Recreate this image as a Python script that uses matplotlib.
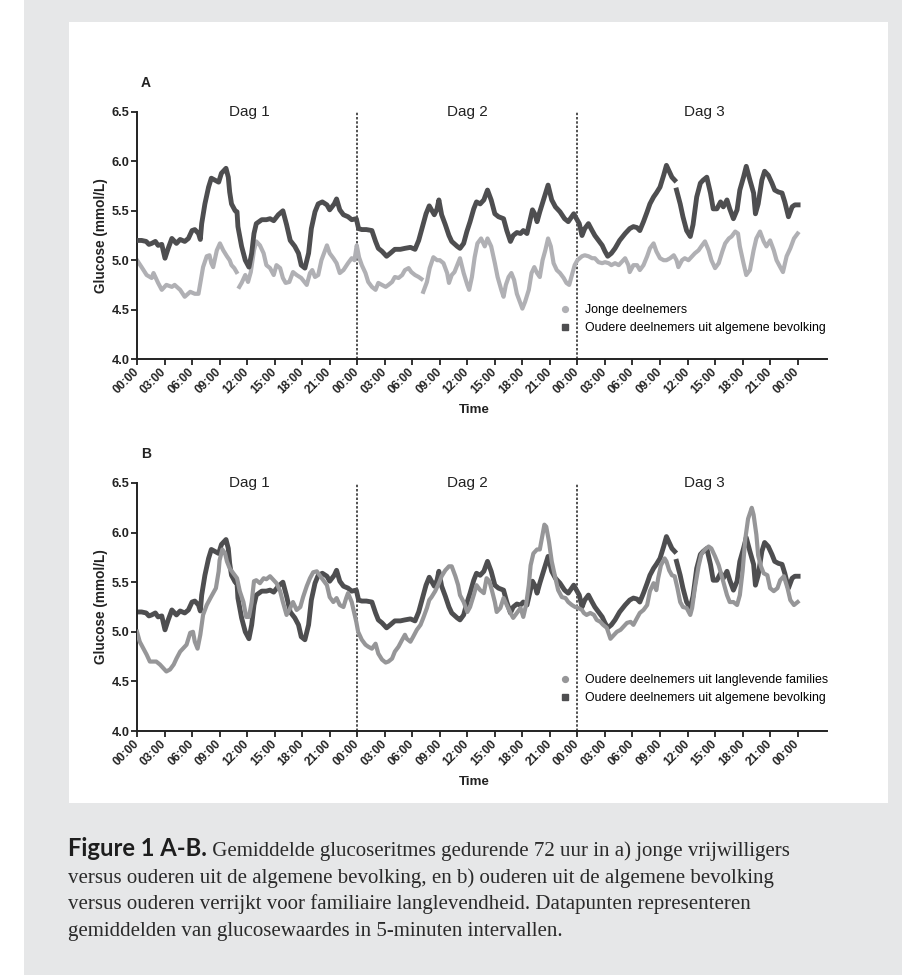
import numpy as np
import matplotlib
matplotlib.use("Agg")
import matplotlib.pyplot as plt
from matplotlib.lines import Line2D
from matplotlib.patches import Rectangle

nan = float("nan")

# ---------------- data (hour since start, glucose mmol/L) ----------------
young_readings = [
    (0, 5.00), (0.5, 4.93), (1.05, 4.85), (1.6, 4.82), (1.8, 4.87), (2.3, 4.77), (2.7, 4.70),
    (3.2, 4.75), (3.8, 4.73), (4.1, 4.75), (4.7, 4.70), (5.2, 4.63), (5.8, 4.68), (6.3, 4.66),
    (6.7, 4.66), (6.9, 4.77), (7.2, 4.93), (7.6, 5.04), (7.9, 5.05), (8.1, 4.97), (8.3, 4.93),
    (8.7, 5.10), (9.04, 5.17), (9.4, 5.10), (9.8, 5.04), (10.1, 5.00), (10.3, 4.95), (10.6, 4.92),
    (10.85, 4.88), (10.95, nan), (11.15, 4.73), (11.4, 4.77), (11.8, 4.85), (12.1, 4.78),
    (12.4, 4.88), (12.75, 5.10), (13.0, 5.19), (13.4, 5.15), (13.8, 5.07), (14.1, 4.95),
    (14.5, 4.92), (14.9, 4.85), (15.2, 4.95), (15.6, 4.92), (15.9, 4.82), (16.2, 4.77),
    (16.6, 4.78), (17.0, 4.88), (17.4, 4.85), (17.9, 4.82), (18.5, 4.75), (18.85, 4.87),
    (19.1, 4.90), (19.4, 4.83), (19.75, 4.85), (20.1, 5.00), (20.5, 5.10), (20.7, 5.15),
    (21.0, 5.07), (21.4, 5.02), (21.75, 4.97), (22.1, 4.87), (22.5, 4.90), (23.0, 4.97),
    (23.4, 5.02), (23.7, 5.00), (23.95, 5.15),
    (24.2, 5.03), (24.5, 4.95), (24.9, 4.87), (25.2, 4.78), (25.6, 4.73), (26.0, 4.70),
    (26.3, 4.77), (26.7, 4.75), (27.1, 4.73), (27.4, 4.75), (27.8, 4.78), (28.1, 4.83),
    (28.5, 4.82), (28.9, 4.85), (29.2, 4.90), (29.6, 4.92), (29.9, 4.88), (30.3, 4.85),
    (30.7, 4.83), (31.0, 4.81), (31.1, nan), (31.2, 4.68), (31.6, 4.78), (31.9, 4.92),
    (32.3, 5.03), (32.7, 5.00), (33.0, 5.00), (33.4, 4.97), (33.8, 4.87), (34.0, 4.77),
    (34.3, 4.85), (34.6, 4.88), (34.9, 4.95), (35.2, 5.02), (35.6, 4.87), (36.0, 4.75),
    (36.2, 4.70), (36.5, 4.83), (36.8, 5.03), (37.1, 5.17), (37.5, 5.22), (37.9, 5.14),
    (38.2, 5.22), (38.6, 5.14), (39.0, 4.97), (39.3, 4.83), (39.7, 4.70), (39.95, 4.63),
    (40.2, 4.75), (40.5, 4.83), (40.8, 4.87), (41.1, 4.80), (41.4, 4.66), (41.8, 4.56),
    (42.0, 4.51), (42.3, 4.58), (42.7, 4.70), (43.0, 4.87), (43.3, 4.93), (43.6, 4.87),
    (43.9, 4.83), (44.2, 5.00), (44.5, 5.10), (44.8, 5.22), (45.1, 5.14), (45.4, 4.97),
    (45.75, 4.90), (46.1, 4.87), (46.5, 4.82), (46.8, 4.77), (47.1, 4.75), (47.4, 4.85),
    (47.7, 4.95), (48.0, 5.00),
    (48.5, 5.04), (48.8, 5.05), (49.2, 5.04), (49.6, 5.02), (49.9, 5.02), (50.3, 4.98),
    (50.7, 4.97), (51.0, 4.98), (51.4, 4.97), (51.7, 4.95), (52.1, 4.97), (52.5, 4.95),
    (52.8, 4.98), (53.2, 5.02), (53.55, 4.95), (53.7, 4.88), (54.1, 4.95), (54.5, 4.95),
    (54.8, 4.90), (55.2, 4.95), (55.6, 5.04), (55.9, 5.12), (56.3, 5.17), (56.6, 5.09),
    (57.0, 5.02), (57.4, 5.00), (57.7, 5.00), (58.1, 5.02), (58.5, 5.05), (58.8, 5.00),
    (59.0, 4.93), (59.4, 5.00), (59.7, 5.02), (60.1, 5.00), (60.5, 5.04), (60.8, 5.07),
    (61.2, 5.10), (61.5, 5.14), (61.9, 5.19), (62.3, 5.10), (62.6, 5.00), (63.0, 4.92),
    (63.4, 4.97), (63.8, 5.09), (64.1, 5.17), (64.5, 5.22), (64.8, 5.24), (65.2, 5.29),
    (65.5, 5.27), (65.7, 5.14), (66.1, 4.97), (66.4, 4.85), (66.8, 4.90), (67.2, 5.10),
    (67.5, 5.22), (67.9, 5.29), (68.3, 5.19), (68.6, 5.14), (69.0, 5.20), (69.4, 5.10),
    (69.7, 5.00), (70.1, 4.93), (70.4, 4.88), (70.8, 5.04), (71.2, 5.12), (71.6, 5.22),
    (72.0, 5.27),
]

general_readings = [
    (0, 5.20), (0.5, 5.20), (1.0, 5.19), (1.3, 5.16), (1.6, 5.17), (2.0, 5.19), (2.3, 5.15),
    (2.7, 5.16), (3.05, 5.02), (3.4, 5.12), (3.8, 5.22), (4.3, 5.17), (4.7, 5.21), (5.2, 5.19),
    (5.6, 5.22), (6.0, 5.30), (6.3, 5.31), (6.7, 5.27), (6.9, 5.21), (7.05, 5.37), (7.4, 5.57),
    (7.8, 5.74), (8.1, 5.83), (8.5, 5.81), (8.9, 5.79), (9.2, 5.88), (9.7, 5.93), (9.95, 5.84),
    (10.1, 5.69), (10.3, 5.57), (10.7, 5.50), (10.9, 5.49), (11.0, 5.34), (11.4, 5.14),
    (11.8, 5.00), (12.2, 4.93), (12.5, 5.07), (12.75, 5.27), (13.0, 5.37), (13.6, 5.41),
    (14.1, 5.41), (14.5, 5.42), (14.9, 5.40), (15.4, 5.46), (15.9, 5.50), (16.3, 5.36),
    (16.7, 5.20), (17.2, 5.14), (17.6, 5.07), (17.9, 4.95), (18.3, 4.92), (18.7, 5.07),
    (19.0, 5.32), (19.4, 5.49), (19.75, 5.57), (20.2, 5.59), (20.7, 5.56), (21.0, 5.51),
    (21.5, 5.57), (21.75, 5.62), (22.1, 5.51), (22.5, 5.46), (23.0, 5.44), (23.4, 5.41),
    (23.9, 5.42), (24.15, 5.32),
    (24.5, 5.31), (25.0, 5.31), (25.6, 5.30), (26.0, 5.19), (26.3, 5.12), (26.7, 5.09),
    (27.2, 5.04), (27.6, 5.07), (28.1, 5.11), (28.7, 5.11), (29.2, 5.12), (29.8, 5.13),
    (30.3, 5.11), (30.7, 5.20), (31.05, 5.32), (31.5, 5.47), (31.85, 5.55), (32.1, 5.51),
    (32.4, 5.46), (32.7, 5.52), (32.9, 5.61), (33.2, 5.46), (33.6, 5.36), (34.0, 5.25),
    (34.3, 5.19), (34.9, 5.14), (35.2, 5.12), (35.6, 5.17), (35.95, 5.29), (36.3, 5.39),
    (36.7, 5.52), (37.0, 5.59), (37.4, 5.57), (37.8, 5.61), (38.2, 5.71), (38.6, 5.61),
    (39.0, 5.47), (39.4, 5.44), (39.95, 5.42), (40.3, 5.30), (40.7, 5.19), (41.0, 5.25),
    (41.4, 5.28), (41.8, 5.27), (42.1, 5.30), (42.5, 5.27), (42.8, 5.39), (43.1, 5.51),
    (43.4, 5.46), (43.6, 5.39), (43.9, 5.49), (44.3, 5.61), (44.8, 5.76), (45.2, 5.61),
    (45.6, 5.54), (46.1, 5.49), (46.6, 5.42), (47.0, 5.39), (47.6, 5.47), (47.9, 5.42),
    (48.2, 5.37), (48.5, 5.25), (48.8, 5.32), (49.2, 5.37), (49.6, 5.30), (49.9, 5.25),
    (50.3, 5.20), (50.7, 5.15), (51.0, 5.09), (51.3, 5.04), (51.7, 5.07), (52.1, 5.12),
    (52.6, 5.20), (53.2, 5.27), (53.7, 5.32), (54.1, 5.34), (54.5, 5.33), (54.8, 5.30),
    (55.2, 5.39), (55.6, 5.49), (55.9, 5.57), (56.3, 5.64), (56.6, 5.68), (57.0, 5.74),
    (57.4, 5.86), (57.7, 5.96), (58.0, 5.90), (58.3, 5.84), (58.6, 5.81), (58.7, nan),
    (58.8, 5.71), (59.2, 5.57), (59.5, 5.44), (59.9, 5.30), (60.3, 5.24), (60.6, 5.36),
    (61.0, 5.64), (61.4, 5.78), (61.7, 5.81), (62.1, 5.84), (62.5, 5.68), (62.8, 5.52),
    (63.2, 5.52), (63.6, 5.59), (63.9, 5.54), (64.3, 5.61), (64.6, 5.52), (65.0, 5.42),
    (65.4, 5.51), (65.7, 5.71), (66.1, 5.84), (66.4, 5.95), (66.8, 5.81), (67.2, 5.68),
    (67.4, 5.47), (67.7, 5.57), (68.1, 5.81), (68.4, 5.90), (68.8, 5.86), (69.2, 5.78),
    (69.5, 5.71), (69.9, 5.69), (70.3, 5.68), (70.6, 5.59), (71.0, 5.44), (71.4, 5.54),
    (71.7, 5.56), (72.05, 5.56),
]

longlived_readings = [
    (0, 5.00), (0.3, 4.90), (0.7, 4.83), (1.05, 4.77), (1.4, 4.70), (1.7, 4.70), (2.1, 4.70),
    (2.5, 4.67), (2.9, 4.63), (3.2, 4.60), (3.6, 4.62), (4.0, 4.67), (4.3, 4.73), (4.7, 4.80),
    (5.0, 4.83), (5.4, 4.87), (5.8, 4.99), (6.1, 5.00), (6.3, 4.90), (6.6, 4.83), (6.9, 4.97),
    (7.2, 5.17), (7.6, 5.27), (8.0, 5.34), (8.3, 5.39), (8.6, 5.44), (8.9, 5.61), (9.0, 5.72),
    (9.3, 5.83), (9.6, 5.79), (9.8, 5.71), (10.1, 5.64), (10.5, 5.59), (10.9, 5.54),
    (11.2, 5.41), (11.6, 5.30), (11.9, 5.15), (12.2, 5.15), (12.5, 5.30), (12.75, 5.51),
    (13.0, 5.52), (13.4, 5.49), (13.8, 5.54), (14.1, 5.53), (14.5, 5.56), (14.9, 5.52),
    (15.2, 5.49), (15.6, 5.41), (15.9, 5.30), (16.3, 5.17), (16.7, 5.24), (17.0, 5.30),
    (17.4, 5.22), (17.8, 5.25), (18.1, 5.35), (18.5, 5.46), (18.85, 5.54), (19.2, 5.60),
    (19.6, 5.61), (19.9, 5.57), (20.3, 5.52), (20.7, 5.47), (21.0, 5.35), (21.4, 5.30),
    (21.75, 5.34), (22.1, 5.27), (22.5, 5.25), (22.8, 5.34), (23.0, 5.39), (23.4, 5.30),
    (23.6, 5.22), (23.9, 5.10),
    (24.1, 5.00), (24.5, 4.92), (24.9, 4.87), (25.2, 4.85), (25.6, 4.83), (26.0, 4.88),
    (26.3, 4.78), (26.7, 4.72), (27.1, 4.69), (27.4, 4.70), (27.8, 4.73), (28.1, 4.80),
    (28.5, 4.85), (28.9, 4.92), (29.2, 4.97), (29.4, 4.93), (29.8, 4.90), (30.1, 4.95),
    (30.5, 5.02), (30.9, 5.07), (31.2, 5.14), (31.6, 5.24), (31.85, 5.32), (32.1, 5.35),
    (32.5, 5.41), (32.9, 5.49), (33.2, 5.56), (33.6, 5.62), (34.0, 5.66), (34.3, 5.66),
    (34.7, 5.56), (35.0, 5.47), (35.2, 5.37), (35.6, 5.30), (36.0, 5.20), (36.3, 5.25),
    (36.7, 5.37), (37.0, 5.47), (37.4, 5.42), (37.8, 5.39), (38.1, 5.54), (38.4, 5.51),
    (38.7, 5.41), (39.0, 5.30), (39.2, 5.20), (39.6, 5.24), (39.95, 5.34), (40.3, 5.27),
    (40.7, 5.19), (41.0, 5.14), (41.4, 5.19), (41.8, 5.24), (42.1, 5.15), (42.4, 5.27),
    (42.7, 5.47), (42.9, 5.67), (43.2, 5.79), (43.6, 5.83), (43.9, 5.83), (44.2, 5.98),
    (44.4, 6.08), (44.6, 6.06), (44.9, 5.91), (45.2, 5.71), (45.6, 5.54), (45.9, 5.42),
    (46.3, 5.35), (46.7, 5.34), (47.0, 5.30), (47.4, 5.27), (47.75, 5.25),
    (48.1, 5.24), (48.5, 5.22), (48.7, 5.19), (49.0, 5.17), (49.4, 5.19), (49.8, 5.17),
    (50.1, 5.12), (50.5, 5.10), (50.8, 5.07), (51.2, 5.04), (51.6, 4.93), (52.0, 4.97),
    (52.3, 5.00), (52.7, 5.02), (53.0, 5.05), (53.4, 5.09), (53.8, 5.10), (54.1, 5.07),
    (54.5, 5.14), (54.8, 5.19), (55.2, 5.22), (55.6, 5.27), (55.9, 5.41), (56.3, 5.49),
    (56.6, 5.42), (56.8, 5.54), (57.1, 5.67), (57.5, 5.74), (57.7, 5.71), (58.0, 5.62),
    (58.3, 5.57), (58.6, 5.56), (58.9, 5.44), (59.2, 5.30), (59.5, 5.25), (59.9, 5.24),
    (60.3, 5.17), (60.5, 5.24), (60.8, 5.44), (61.2, 5.66), (61.5, 5.78), (61.9, 5.83),
    (62.3, 5.86), (62.6, 5.84), (63.0, 5.76), (63.4, 5.67), (63.7, 5.57), (64.0, 5.47),
    (64.3, 5.37), (64.6, 5.30), (65.0, 5.30), (65.4, 5.27), (65.7, 5.37), (66.0, 5.61),
    (66.3, 5.94), (66.6, 6.14), (67.0, 6.25), (67.2, 6.18), (67.5, 5.98), (67.7, 5.77),
    (68.0, 5.66), (68.3, 5.59), (68.7, 5.57), (69.0, 5.44), (69.4, 5.41), (69.8, 5.44),
    (70.1, 5.52), (70.5, 5.56), (70.9, 5.44), (71.2, 5.32), (71.6, 5.27), (72.0, 5.30),
]

tick_hours = list(range(0, 73, 3))
tick_labels = ["%02d:00" % (h % 24) for h in tick_hours]
y_ticks = [4.0, 4.5, 5.0, 5.5, 6.0, 6.5]
day_labels = ["Dag 1", "Dag 2", "Dag 3"]
day_label_pos = [12.3, 36.0, 61.8]
day_bounds = [24, 48]

label_young = "Jonge deelnemers"
label_general = "Oudere deelnemers uit algemene bevolking"
label_longlived = "Oudere deelnemers uit langlevende families"

caption_bold = "Figure 1 A-B."
caption_lines = [
    " Gemiddelde glucoseritmes gedurende 72 uur in a) jonge vrijwilligers",
    "versus ouderen uit de algemene bevolking, en b) ouderen uit de algemene bevolking",
    "versus ouderen verrijkt voor familiaire langlevendheid. Datapunten representeren",
    "gemiddelden van glucosewaardes in 5-minuten intervallen.",
]

# ---------------- styling ----------------
C_DARK = "#4e4e50"
C_YOUNG = "#b0b0b4"
C_LONG = "#969698"
INK = "#222222"
SANS = "Liberation Sans"

W, H = 903, 975
fig = plt.figure(figsize=(W / 100, H / 100), dpi=100)
fig.patch.set_facecolor("white")


def fx(x):
    return x / W


def fy(y):
    return 1 - y / H


fig.add_artist(Rectangle((fx(24), 0), 1 - fx(24), 1, transform=fig.transFigure,
                         facecolor="#e6e7e8", edgecolor="none", zorder=-10))
fig.add_artist(Rectangle((fx(69), fy(803)), fx(888) - fx(69), fy(22) - fy(803),
                         transform=fig.transFigure, facecolor="white", edgecolor="none", zorder=-9))


def split(readings):
    hrs = np.array([r[0] for r in readings], dtype=float)
    vals = np.array([r[1] for r in readings], dtype=float)
    return hrs, vals


def make_axes(top, bottom):
    ax = fig.add_axes([fx(137), fy(bottom), fx(827) - fx(137), fy(top) - fy(bottom)])
    ax.set_facecolor("none")
    ax.set_xlim(0, 75.2)
    ax.set_ylim(4.0, 6.5)
    for s in ["top", "right"]:
        ax.spines[s].set_visible(False)
    for s in ["left", "bottom"]:
        ax.spines[s].set_linewidth(1.4)
        ax.spines[s].set_color(INK)
    ax.set_xticks(tick_hours)
    ax.set_xticklabels(tick_labels, rotation=45, ha="right", va="center",
                       rotation_mode="anchor", fontsize=8.6, fontweight="bold",
                       family=SANS, color=INK)
    ax.set_yticks(y_ticks)
    ax.set_yticklabels(["%.1f" % v for v in y_ticks], fontsize=9.2, fontweight="bold",
                       family=SANS, color=INK)
    ax.tick_params(axis="both", direction="out", length=4, width=1.3, color=INK)
    ax.tick_params(axis="x", pad=4)
    ax.tick_params(axis="y", pad=1.5)
    for b in day_bounds:
        ax.axvline(b, ymin=0, ymax=1, color=INK, lw=1.1, ls=(0, (1.6, 1.2)), zorder=1)
    for lab, pos in zip(day_labels, day_label_pos):
        ax.text(pos, 6.5, lab, ha="center", va="center", fontsize=11, family=SANS,
                color=INK)
    return ax


def deco(top, bottom, letter):
    fig.text(fx(141), fy(top - 29), letter, fontsize=10, fontweight="bold", family=SANS,
             ha="left", va="center", color=INK)
    fig.text(fx(101), fy((top + bottom) / 2), "Glucose (mmol/L)", rotation=90, fontsize=9.8,
             fontweight="bold", family=SANS, ha="center", va="center", color=INK)
    fig.text(fx(474), fy(bottom + 51), "Time", fontsize=9.6, fontweight="bold", family=SANS,
             ha="center", va="center", color=INK)


def add_legend(ax, top_row_y, entries):
    handles = [Line2D([], [], ls="none", marker=m, ms=ms, color=c, mec=c) for (m, ms, c, _) in entries]
    labels = [e[3] for e in entries]
    ax.legend(handles, labels, loc="upper left",
              bbox_to_anchor=(fx(559), fy(top_row_y - 5)), bbox_transform=fig.transFigure,
              frameon=False, borderpad=0, borderaxespad=0, handlelength=1.0,
              handletextpad=1.1, labelspacing=0.5,
              prop={"family": SANS, "size": 8.9})


gh, gv = split(general_readings)
yh, yv = split(young_readings)
lh, lv = split(longlived_readings)

# Panel A
axA = make_axes(112, 359)
axA.plot(yh, yv, color=C_YOUNG, lw=3.0, solid_joinstyle="round", zorder=2)
axA.plot(gh, gv, color=C_DARK, lw=3.5, solid_joinstyle="round", zorder=3)
add_legend(axA, 309, [("o", 4.2, C_YOUNG, label_young), ("s", 3.8, C_DARK, label_general)])
deco(112, 359, "A")

# Panel B
axB = make_axes(483, 731)
axB.plot(gh, gv, color=C_DARK, lw=3.5, solid_joinstyle="round", zorder=2)
axB.plot(lh, lv, color=C_LONG, lw=3.0, solid_joinstyle="round", zorder=3)
add_legend(axB, 679, [("o", 4.2, C_LONG, label_longlived), ("s", 3.8, C_DARK, label_general)])
deco(483, 731, "B")

# Caption
renderer = fig.canvas.get_renderer()
serif = "Liberation Serif"
probe = fig.text(0, 0, caption_lines[1], fontsize=14, family=serif)
wprobe = probe.get_window_extent(renderer=renderer).width
probe.remove()
serif_size = 14 * 707.0 / wprobe

bprobe = fig.text(0, 0, caption_bold, fontsize=14, family="Lato", fontweight="bold")
wb = bprobe.get_window_extent(renderer=renderer).width
bprobe.remove()
bold_size = 14 * 140.0 / wb

cap_col = "#2a2a2a"
baselines = [856, 883, 909, 936]
tb = fig.text(fx(68), fy(baselines[0]), caption_bold, fontsize=bold_size, family="Lato",
              fontweight="bold", va="baseline", ha="left", color="#1e1e1e")
bb = tb.get_window_extent(renderer=renderer)
fig.text(bb.x1 / W, fy(baselines[0]), caption_lines[0], fontsize=serif_size, family=serif,
         va="baseline", ha="left", color=cap_col)
for line, yb in zip(caption_lines[1:], baselines[1:]):
    fig.text(fx(68), fy(yb), line, fontsize=serif_size, family=serif, va="baseline",
             ha="left", color=cap_col)

fig.savefig("out.png", dpi=100, facecolor=fig.get_facecolor())
